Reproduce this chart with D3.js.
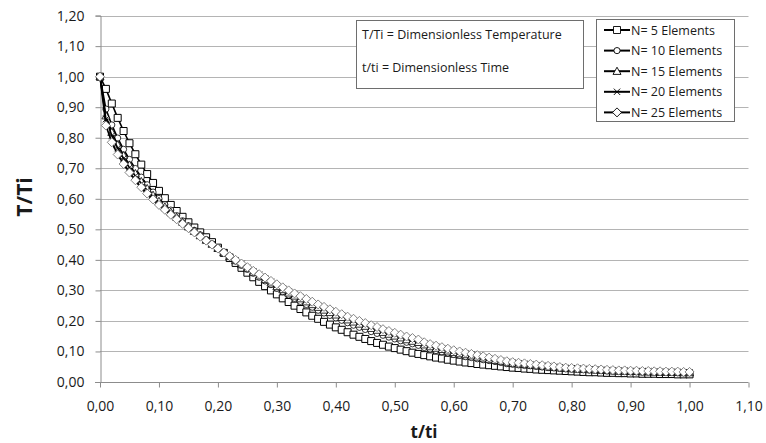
<!DOCTYPE html>
<html>
<head>
<meta charset="utf-8">
<script src="https://cdn.jsdelivr.net/npm/d3@7"></script>
<style>
  html, body { margin: 0; padding: 0; background: #fff; }
  svg { display: block; }
  text { font-family: "Open Sans", "Liberation Sans", sans-serif; fill: #1a1a1a; }
</style>
</head>
<body>
<svg id="chart" width="766" height="443"></svg>
<script>
// ---- data ----
const tValues = [0.00,0.01,0.02,0.03,0.04,0.05,0.06,0.07,0.08,0.09,
  0.10,0.11,0.12,0.13,0.14,0.15,0.16,0.17,0.18,0.19,
  0.20,0.21,0.22,0.23,0.24,0.25,0.26,0.27,0.28,0.29,
  0.30,0.31,0.32,0.33,0.34,0.35,0.36,0.37,0.38,0.39,
  0.40,0.41,0.42,0.43,0.44,0.45,0.46,0.47,0.48,0.49,
  0.50,0.51,0.52,0.53,0.54,0.55,0.56,0.57,0.58,0.59,
  0.60,0.61,0.62,0.63,0.64,0.65,0.66,0.67,0.68,0.69,
  0.70,0.71,0.72,0.73,0.74,0.75,0.76,0.77,0.78,0.79,
  0.80,0.81,0.82,0.83,0.84,0.85,0.86,0.87,0.88,0.89,
  0.90,0.91,0.92,0.93,0.94,0.95,0.96,0.97,0.98,0.99,1.00];

const n5 = [1.000,0.960,0.912,0.865,0.822,0.782,0.746,0.712,0.681,0.652,
  0.626,0.602,0.580,0.560,0.541,0.523,0.506,0.490,0.474,0.458,
  0.440,0.423,0.406,0.390,0.374,0.358,0.343,0.328,0.314,0.300,
  0.287,0.274,0.262,0.250,0.239,0.228,0.217,0.207,0.197,0.188,
  0.179,0.171,0.163,0.155,0.148,0.141,0.134,0.128,0.122,0.116,
  0.111,0.106,0.101,0.096,0.092,0.088,0.084,0.080,0.077,0.073,
  0.070,0.067,0.064,0.062,0.059,0.057,0.055,0.053,0.051,0.049,
  0.047,0.046,0.044,0.043,0.041,0.040,0.039,0.038,0.037,0.036,
  0.035,0.034,0.033,0.032,0.032,0.031,0.030,0.030,0.029,0.029,
  0.028,0.028,0.027,0.027,0.027,0.026,0.026,0.026,0.025,0.025,0.025];

const n10 = [1.000,0.894,0.842,0.799,0.762,0.729,0.699,0.671,0.646,0.622,
  0.601,0.581,0.563,0.545,0.528,0.512,0.497,0.482,0.467,0.453,
  0.438,0.424,0.410,0.396,0.382,0.369,0.356,0.343,0.331,0.319,
  0.307,0.296,0.285,0.274,0.264,0.254,0.245,0.235,0.226,0.218,
  0.210,0.202,0.194,0.186,0.179,0.172,0.165,0.159,0.153,0.147,
  0.141,0.135,0.130,0.125,0.120,0.113,0.108,0.103,0.099,0.095,
  0.090,0.087,0.083,0.080,0.076,0.073,0.070,0.067,0.064,0.060,
  0.058,0.056,0.054,0.053,0.051,0.049,0.047,0.046,0.044,0.043,
  0.042,0.041,0.040,0.039,0.038,0.037,0.036,0.035,0.034,0.034,
  0.033,0.033,0.032,0.032,0.032,0.031,0.031,0.031,0.030,0.030,0.030];

const n15 = [1.000,0.872,0.818,0.777,0.742,0.711,0.683,0.657,0.634,0.612,
  0.592,0.574,0.557,0.540,0.524,0.509,0.494,0.480,0.465,0.452,
  0.438,0.424,0.411,0.398,0.385,0.372,0.360,0.348,0.336,0.325,
  0.313,0.303,0.292,0.282,0.273,0.263,0.254,0.245,0.236,0.228,
  0.220,0.212,0.204,0.197,0.190,0.183,0.176,0.170,0.163,0.157,
  0.151,0.145,0.139,0.134,0.130,0.122,0.116,0.111,0.107,0.102,
  0.097,0.093,0.090,0.086,0.082,0.079,0.075,0.071,0.068,0.064,
  0.061,0.060,0.058,0.056,0.054,0.052,0.050,0.048,0.047,0.045,
  0.044,0.043,0.042,0.041,0.040,0.039,0.038,0.037,0.036,0.036,
  0.035,0.035,0.034,0.034,0.033,0.033,0.032,0.032,0.032,0.031,0.031];

const n20 = [1.000,0.861,0.807,0.766,0.732,0.702,0.675,0.650,0.628,0.607,
  0.588,0.571,0.554,0.538,0.522,0.507,0.493,0.478,0.464,0.451,
  0.437,0.424,0.411,0.399,0.387,0.374,0.362,0.351,0.339,0.328,
  0.317,0.306,0.296,0.286,0.277,0.268,0.258,0.249,0.241,0.233,
  0.225,0.217,0.209,0.202,0.195,0.188,0.181,0.175,0.168,0.162,
  0.156,0.150,0.144,0.139,0.134,0.126,0.120,0.115,0.110,0.105,
  0.101,0.097,0.093,0.089,0.085,0.081,0.078,0.074,0.070,0.066,
  0.063,0.061,0.059,0.057,0.055,0.053,0.052,0.050,0.048,0.046,
  0.045,0.044,0.043,0.042,0.041,0.040,0.039,0.038,0.037,0.037,
  0.036,0.036,0.035,0.035,0.034,0.034,0.033,0.033,0.033,0.032,0.032];

const n25 = [1.000,0.840,0.785,0.745,0.714,0.686,0.661,0.638,0.617,0.598,
  0.580,0.564,0.548,0.533,0.518,0.504,0.490,0.476,0.463,0.450,
  0.437,0.424,0.412,0.400,0.388,0.376,0.364,0.353,0.342,0.331,
  0.320,0.310,0.300,0.290,0.281,0.272,0.263,0.254,0.246,0.238,
  0.230,0.222,0.214,0.207,0.200,0.193,0.186,0.180,0.173,0.167,
  0.161,0.155,0.149,0.144,0.139,0.130,0.124,0.119,0.114,0.109,
  0.104,0.100,0.096,0.092,0.088,0.084,0.080,0.076,0.072,0.068,
  0.065,0.063,0.061,0.059,0.057,0.055,0.053,0.051,0.049,0.047,
  0.046,0.045,0.044,0.043,0.042,0.041,0.040,0.039,0.038,0.038,
  0.037,0.037,0.036,0.036,0.035,0.035,0.034,0.034,0.034,0.033,0.033];

const seriesNames = ["N= 5 Elements","N= 10 Elements","N= 15 Elements","N= 20 Elements","N= 25 Elements"];
const seriesValues = [n5, n10, n15, n20, n25];
const seriesMarkers = ["square","circle","triangle","cross","diamond"];

const xTickValues = [0,0.1,0.2,0.3,0.4,0.5,0.6,0.7,0.8,0.9,1.0,1.1];
const yTickValues = [0,0.1,0.2,0.3,0.4,0.5,0.6,0.7,0.8,0.9,1.0,1.1,1.2];
const xTitle = "t/ti";
const yTitle = "T/Ti";
const noteLines = ["T/Ti = Dimensionless Temperature", "t/ti = Dimensionless Time"];

// ---- drawing ----
const svg = d3.select("#chart");
const x = d3.scaleLinear().domain([0, 1.1]).range([100, 748.5]);
const y = d3.scaleLinear().domain([0, 1.2]).range([382, 15.6]);
const fmt = v => d3.format(".2f")(v).replace(".", ",");
const axisColor = "#8c8c8c";

// gridlines
svg.append("g").selectAll("line").data(yTickValues.filter(v => v > 0)).join("line")
  .attr("x1", x(0)).attr("x2", x(1.1))
  .attr("y1", d => Math.round(y(d)) + 0.5).attr("y2", d => Math.round(y(d)) + 0.5)
  .attr("stroke", "#b4b4b4").attr("stroke-width", 1);

// y axis
const yAxis = svg.append("g").attr("transform", `translate(${x(0)+0.5},0)`)
  .call(d3.axisLeft(y).tickValues(yTickValues).tickFormat(fmt).tickSize(5).tickPadding(11));
// x axis
const xAxis = svg.append("g").attr("transform", `translate(0,${Math.round(y(0))+0.5})`)
  .call(d3.axisBottom(x).tickValues(xTickValues).tickFormat(fmt).tickSize(5).tickPadding(14));
[yAxis, xAxis].forEach(g => {
  g.select(".domain").attr("stroke", axisColor).attr("stroke-width", 1);
  g.selectAll(".tick line").attr("stroke", axisColor);
  g.selectAll(".tick text").style("font-family", "'Open Sans', sans-serif")
    .style("font-size", "14px").attr("fill", "#1a1a1a");
});
xAxis.select(".domain").attr("d", `M${x(0)-5},0H${x(1.1)}`);

// axis titles
svg.append("text").attr("x", 424).attr("y", 438).attr("text-anchor", "middle")
  .style("font-size", "17px").style("font-weight", "bold").text(xTitle);
svg.append("text").attr("transform", "translate(32,197) rotate(-90)").attr("text-anchor", "middle")
  .style("font-size", "21px").style("font-weight", "bold").text(yTitle);

// marker path generator
function markerPath(type) {
  switch (type) {
    case "square": return "M-3.5,-3.5H3.5V3.5H-3.5Z";
    case "circle": return d3.symbol(d3.symbolCircle, 30)();
    case "triangle": return "M0,-4L4,3.2L-4,3.2Z";
    case "cross": return "M-3.2,-3.2L3.2,3.2M3.2,-3.2L-3.2,3.2";
    case "diamond": return "M0,-4.5L4.5,0L0,4.5L-4.5,0Z";
  }
}

const line = d3.line().x(d => x(d[0])).y(d => y(d[1]));
const plot = svg.append("g");
seriesValues.forEach((vals, i) => {
  const pts = tValues.map((t, j) => [t, vals[j]]);
  const g = plot.append("g");
  g.append("path").datum(pts).attr("d", line).attr("fill", "none")
    .attr("stroke", "#000").attr("stroke-width", 1.6);
  g.selectAll("path.m").data(pts).join("path").attr("class", "m")
    .attr("transform", d => `translate(${x(d[0])},${y(d[1])})`)
    .attr("d", markerPath(seriesMarkers[i]))
    .attr("fill", "#fff")
    .attr("stroke", i === 4 ? "#666" : "#000")
    .attr("stroke-width", i === 0 ? 1 : 0.8);
});

// note box
const note = svg.append("g");
note.append("rect").attr("x", 356.5).attr("y", 20.5).attr("width", 227).attr("height", 68)
  .attr("fill", "#fff").attr("stroke", "#6e6e6e");
note.selectAll("text").data(noteLines).join("text")
  .attr("x", 362).attr("y", (d, i) => 39 + i * 33)
  .style("font-size", "12.5px").text(d => d);

// legend
const leg = svg.append("g");
leg.append("rect").attr("x", 596.5).attr("y", 19.5).attr("width", 138).attr("height", 102)
  .attr("fill", "#fff").attr("stroke", "#6e6e6e");
seriesNames.forEach((name, i) => {
  const cy = 30 + i * 20.6;
  leg.append("line").attr("x1", 604).attr("x2", 630).attr("y1", cy).attr("y2", cy)
    .attr("stroke", "#000").attr("stroke-width", 2);
  leg.append("path").attr("transform", `translate(617,${cy})`).attr("d", markerPath(seriesMarkers[i]))
    .attr("fill", "#fff").attr("stroke", "#000").attr("stroke-width", 0.9);
  leg.append("text").attr("x", 631).attr("y", cy + 4.5).style("font-size", "12.5px").text(name);
});
</script>
</body>
</html>
